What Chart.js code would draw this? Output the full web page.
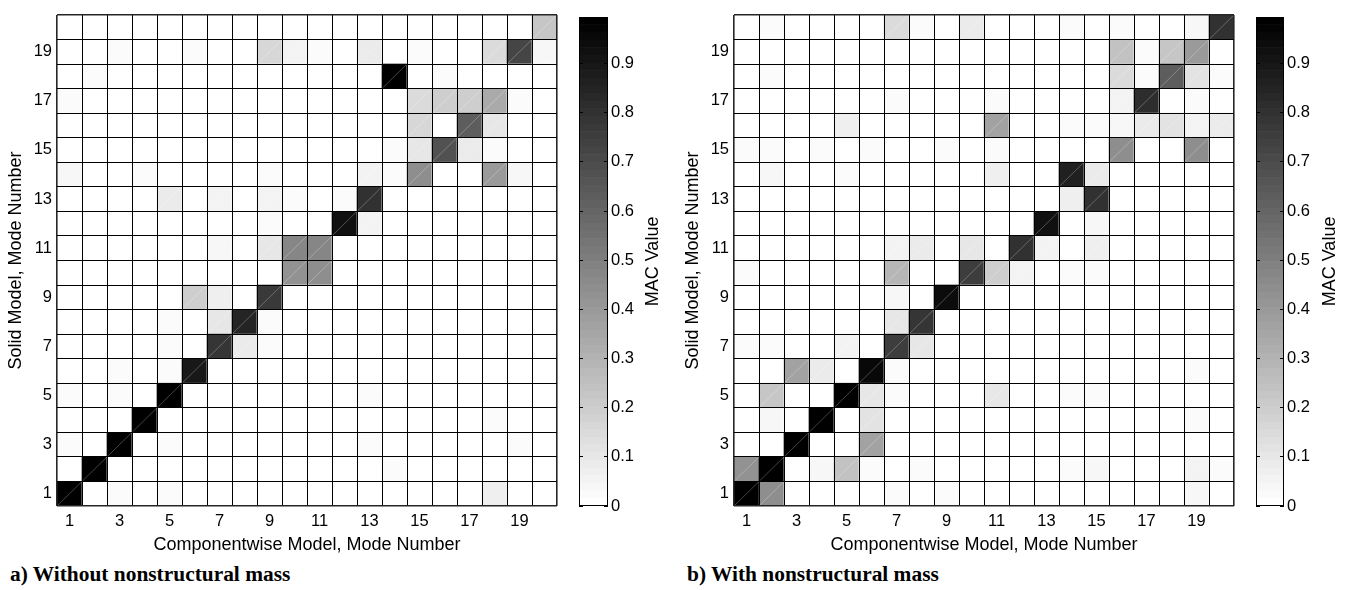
<!DOCTYPE html>
<html><head><meta charset="utf-8">
<script src="https://cdn.jsdelivr.net/npm/chart.js@4.4.1/dist/chart.umd.min.js"></script>
<style>
html,body{margin:0;padding:0;background:#fff;width:1352px;height:590px;overflow:hidden;position:relative;}
canvas{position:absolute;top:0;}
.cap{position:absolute;top:564px;font-family:"Liberation Serif","Times New Roman",serif;font-weight:bold;font-size:21.4px;line-height:21px;white-space:nowrap;color:#000;}
</style></head><body>
<canvas id="hmA" width="570" height="560" style="left:0px"></canvas>
<canvas id="cbA" width="106" height="560" style="left:570px"></canvas>
<canvas id="hmB" width="570" height="560" style="left:677px"></canvas>
<canvas id="cbB" width="105" height="560" style="left:1247px"></canvas>
<div class="cap" style="left:10px">a) Without nonstructural mass</div>
<div class="cap" style="left:687px">b) With nonstructural mass</div>
<script>
// ---- data ----
const modes = [1,2,3,4,5,6,7,8,9,10,11,12,13,14,15,16,17,18,19,20];
const modeTicks = [1,3,5,7,9,11,13,15,17,19];
const cellEdges = [0.5,1.5,2.5,3.5,4.5,5.5,6.5,7.5,8.5,9.5,10.5,11.5,12.5,13.5,14.5,15.5,16.5,17.5,18.5,19.5,20.5];
const colorbarTicks = [0,0.1,0.2,0.3,0.4,0.5,0.6,0.7,0.8,0.9];
const macMax = 0.995;

// rows = solid model mode 1..20, columns = componentwise model mode 1..20
const macA = [
  [.995,0,.02,0,.02,0,0,0,0,0,0,0,0,0,0,0,0,.07,0,0],
  [0,.995,0,0,0,0,0,0,0,0,0,0,0,.02,0,0,0,0,0,0],
  [.02,0,.995,0,.02,.015,0,0,0,0,0,0,.02,0,0,0,0,0,.03,0],
  [0,0,0,.995,0,0,0,0,0,0,0,0,0,0,0,0,0,.03,0,0],
  [.02,0,.02,0,.99,0,0,0,0,0,0,0,.02,0,0,0,0,0,0,0],
  [0,0,.02,0,.03,.89,0,0,0,0,0,0,0,0,0,0,0,0,0,0],
  [0,0,0,0,.03,0,.78,.09,.02,0,0,0,0,0,0,0,0,0,0,0],
  [0,0,0,0,.03,0,.10,.84,.02,0,0,0,0,0,0,0,0,0,0,0],
  [0,0,0,0,0,.20,.07,0,.77,0,0,0,0,0,0,0,0,0,0,0],
  [0,0,0,0,0,0,0,0,0,.43,.45,0,0,0,0,0,0,0,0,0],
  [0,0,0,0,0,0,.04,0,.10,.48,.47,0,0,0,0,0,0,0,0,0],
  [0,0,0,0,0,0,0,0,.02,0,0,.92,.06,0,0,0,0,0,0,0],
  [0,0,0,0,.08,0,.05,0,.05,.02,0,.02,.80,0,0,0,0,0,0,0],
  [.04,0,0,.02,0,0,0,0,.02,0,0,0,.05,.02,.45,0,0,.39,.04,0],
  [0,0,0,0,0,0,0,0,0,0,0,0,0,.02,.10,.67,.08,.02,0,0],
  [0,0,0,0,0,0,0,0,0,0,0,0,0,0,.16,0,.63,.10,0,0],
  [.02,0,0,0,0,0,0,0,0,0,0,0,0,0,.15,.20,.20,.33,.02,0],
  [0,.02,0,0,0,0,0,0,0,0,0,0,0,.98,0,.02,0,0,0,0],
  [0,0,.02,0,0,.02,0,0,.16,.05,.03,0,.09,0,.02,0,0,.14,.73,.04],
  [0,0,0,0,0,0,0,0,0,0,0,0,0,0,0,0,0,0,0,.22]
];
const macB = [
  [.995,.45,0,0,0,0,.02,0,.02,0,0,0,0,0,0,0,0,0,.04,0],
  [.43,.995,0,.04,.24,.02,0,.03,0,0,0,0,0,.02,.04,0,0,0,.05,.02],
  [0,0,.995,0,0,.37,0,0,0,0,0,0,0,0,0,0,0,0,0,0],
  [0,.04,0,.995,0,.12,0,0,0,0,0,0,0,0,0,0,0,0,.02,0],
  [0,.23,0,0,.995,.10,.02,0,0,0,.10,0,0,.03,.02,0,0,0,0,0],
  [0,0,.37,.08,0,.96,.02,0,0,0,0,0,0,0,0,0,0,0,.02,0],
  [.02,.02,0,0,.05,0,.76,.10,0,0,0,0,0,0,0,0,0,0,0,0],
  [0,0,0,0,0,0,.10,.78,0,0,0,0,0,0,0,0,0,0,0,0],
  [0,0,0,0,0,0,.04,0,.94,0,0,0,0,0,0,0,0,0,0,0],
  [.03,0,0,0,0,0,.28,0,0,.76,.20,.05,0,.02,.02,0,0,0,0,0],
  [0,0,0,0,0,0,.05,.08,0,.10,0,.80,.06,0,.07,0,0,0,0,0],
  [0,0,0,0,0,0,0,0,0,0,0,0,.92,0,.04,0,0,0,0,0],
  [0,0,0,0,0,0,0,0,0,0,0,0,0,.07,.80,0,0,0,0,0],
  [0,.04,0,0,.03,0,0,0,0,0,.07,0,0,.87,.08,0,0,0,0,0],
  [.03,.03,0,.02,0,.02,0,0,.02,0,.03,0,0,0,0,.45,0,0,.45,0],
  [0,0,0,0,.07,0,0,0,0,0,.36,0,0,.03,.03,.04,.08,.12,.05,.08],
  [0,0,0,0,0,0,.02,0,0,0,.02,0,0,0,0,.05,.82,0,.02,0],
  [0,.02,0,0,0,0,0,0,0,0,0,0,0,0,0,.14,.03,.63,.12,.02],
  [0,0,0,0,0,0,0,0,0,0,0,0,0,0,0,.24,.03,.23,.40,0],
  [0,.02,0,0,0,0,.14,.02,0,.09,0,0,0,.02,0,.02,0,0,.04,.80]
];

// ---- colour map (flipped gray, 64 levels) ----
const NLEV = 64;
function grayLevel(k){ const g = Math.round((NLEV-1-k)/(NLEV-1)*255); return 'rgb('+g+','+g+','+g+')'; }
function colorFor(v){ const k = Math.max(0, Math.min(NLEV-1, Math.floor(v/macMax*NLEV))); return grayLevel(k); }

const FONT = '"Liberation Sans", Arial, Helvetica, sans-serif';
const tickFont = {family: FONT, size: 16.5};
const titleFont = {family: FONT, size: 18};

function heatDatasets(mat){
  return mat.map((row, r) => ({
    xAxisID: 'x', yAxisID: 'y',
    data: row.map((v, c) => ({x: modes[c], y: [modes[r]-0.5, modes[r]+0.5]})),
    backgroundColor: row.map(v => colorFor(v)),
    borderWidth: 0,
    grouped: false,
    barPercentage: 1,
    categoryPercentage: 1
  }));
}

function diagPlugin(mat){
  return {
    id: 'diag',
    afterDatasetsDraw(chart){
      const {ctx, scales:{x, y}} = chart;
      ctx.save();
      ctx.strokeStyle = 'rgba(255,255,255,0.33)';
      ctx.lineWidth = 0.8;
      mat.forEach((row, r) => row.forEach((v, c) => {
        if (v <= 0) return;
        ctx.beginPath();
        ctx.moveTo(x.getPixelForValue(modes[c]-0.5), y.getPixelForValue(modes[r]-0.5));
        ctx.lineTo(x.getPixelForValue(modes[c]+0.5), y.getPixelForValue(modes[r]+0.5));
        ctx.stroke();
      }));
      ctx.restore();
    }
  };
}

function isEdge(ctx){ return ctx.tick && (ctx.tick.value === 0.5 || ctx.tick.value === 20.5); }

function gridAxis(axis, position){
  return {
    type: 'linear', axis, position, min: 0.5, max: 20.5, offset: false,
    afterBuildTicks: s => { s.ticks = cellEdges.map(v => ({value: v})); },
    afterFit: s => { if (axis === 'x') s.height = 0; else s.width = 0; },
    grid: {
      display: true, drawTicks: false, offset: false, drawOnChartArea: true, z: 1,
      color: ctx => isEdge(ctx) ? '#262626' : '#000',
      lineWidth: ctx => isEdge(ctx) ? 1.6 : 1
    },
    border: {display: false},
    ticks: {display: false}
  };
}

function makeHeat(id, mat){
  new Chart(document.getElementById(id), {
    type: 'bar',
    data: {datasets: heatDatasets(mat)},
    options: {
      responsive: false, animation: false, events: [],
      layout: {padding: {left: 0, top: 6, right: 13, bottom: 0}},
      plugins: {legend: {display: false}, tooltip: {enabled: false}},
      scales: {
        x: {
          type: 'linear', position: 'bottom', min: 0.5, max: 20.5, offset: false,
          afterBuildTicks: s => { s.ticks = modeTicks.map(v => ({value: v})); },
          afterFit: s => { s.height = 54; },
          grid: {display: false, drawTicks: false},
          border: {display: false},
          ticks: {color: '#000', font: tickFont, padding: 6, autoSkip: false, maxRotation: 0, callback: v => String(v)},
          title: {display: true, text: 'Componentwise Model, Mode Number', color: '#000', font: titleFont, padding: {top: 0, bottom: 4}}
        },
        y: {
          type: 'linear', position: 'left', min: 0.5, max: 20.5, offset: false,
          afterBuildTicks: s => { s.ticks = modeTicks.map(v => ({value: v})); },
          afterFit: s => { s.width = 57; },
          grid: {display: false, drawTicks: false},
          border: {display: false},
          ticks: {color: '#000', font: tickFont, padding: 5, autoSkip: false, callback: v => String(v)},
          title: {display: true, text: 'Solid Model, Mode Number', color: '#000', font: titleFont, padding: {top: 5, bottom: 0}}
        },
        xg: gridAxis('x', 'bottom'),
        yg: gridAxis('y', 'left')
      }
    },
    plugins: [diagPlugin(mat)]
  });
}

const colorbarFrame = {
  id: 'cbframe',
  afterDraw(chart){
    const {ctx, chartArea: a} = chart;
    ctx.save();
    ctx.strokeStyle = '#000';
    ctx.lineWidth = 1;
    ctx.strokeRect(Math.round(a.left)+0.5, Math.round(a.top)+0.5, Math.round(a.right-a.left)-1, Math.round(a.bottom-a.top)-1);
    ctx.translate(83, (a.top + a.bottom)/2);
    ctx.rotate(-Math.PI/2);
    ctx.fillStyle = '#000';
    ctx.font = titleFont.size + 'px ' + FONT;
    ctx.textAlign = 'center';
    ctx.textBaseline = 'middle';
    ctx.fillText('MAC Value', 0, 0);
    ctx.restore();
  }
};

function makeColorbar(id){
  const levels = Array.from({length: NLEV}, (_, k) => k);
  new Chart(document.getElementById(id), {
    type: 'bar',
    data: {
      labels: [''],
      datasets: levels.map(k => ({
        data: [macMax/NLEV], backgroundColor: grayLevel(k), borderWidth: 0,
        barPercentage: 1, categoryPercentage: 1, stack: 'cb', yAxisID: 'y', xAxisID: 'x'
      }))
    },
    options: {
      responsive: false, animation: false, events: [],
      layout: {padding: {left: 9, top: 6, right: 0, bottom: 54}},
      plugins: {legend: {display: false}, tooltip: {enabled: false}},
      scales: {
        x: {display: false, stacked: true, offset: true},
        y: {
          type: 'linear', position: 'right', stacked: true, min: 0, max: macMax,
          afterBuildTicks: s => { s.ticks = colorbarTicks.map(v => ({value: v})); },
          afterFit: s => { s.width = 68; },
          grid: {display: true, drawOnChartArea: false, drawTicks: true, tickLength: -4, color: '#000', lineWidth: 1, z: 1},
          border: {display: false},
          ticks: {color: '#000', font: tickFont, padding: 7, autoSkip: false, callback: v => String(v)}
        },
        yl: {
          type: 'linear', axis: 'y', position: 'left', min: 0, max: macMax,
          afterBuildTicks: s => { s.ticks = colorbarTicks.map(v => ({value: v})); },
          afterFit: s => { s.width = 0; },
          grid: {display: true, drawOnChartArea: false, drawTicks: true, tickLength: -4, color: '#000', lineWidth: 1, z: 1},
          border: {display: false},
          ticks: {display: false}
        }
      }
    },
    plugins: [colorbarFrame]
  });
}

makeHeat('hmA', macA);
makeColorbar('cbA');
makeHeat('hmB', macB);
makeColorbar('cbB');
</script>
</body></html>
